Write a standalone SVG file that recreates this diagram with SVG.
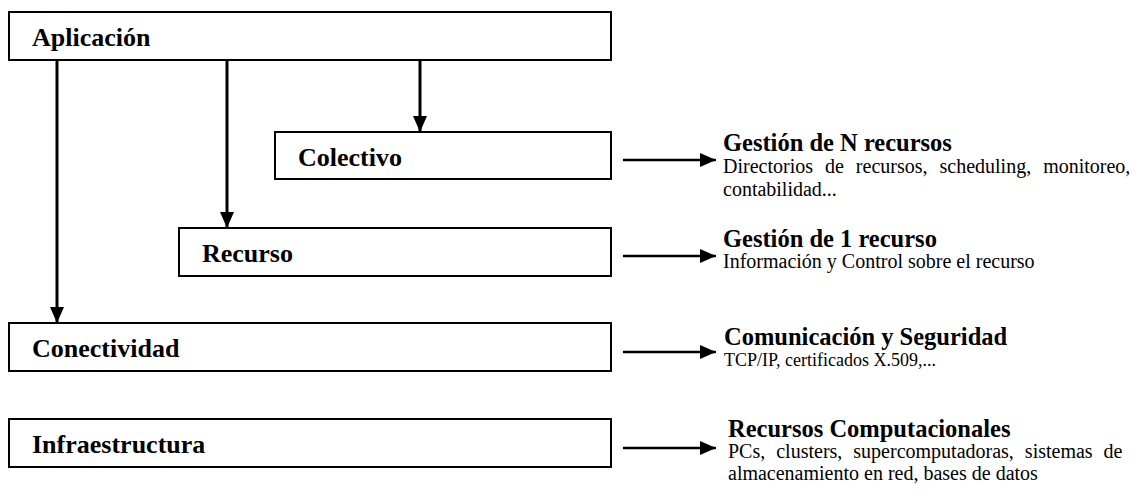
<svg xmlns="http://www.w3.org/2000/svg" width="1139" height="492" viewBox="0 0 1139 492">
  <style>
    .box { fill: #fff; stroke: #000; stroke-width: 2; }
    .label { font-family: "Liberation Serif", "Times New Roman", serif; font-weight: bold; font-size: 26px; fill: #000; }
    .head { font-family: "Liberation Serif", "Times New Roman", serif; font-weight: bold; font-size: 24.5px; fill: #000; }
    .desc { font-family: "Liberation Serif", "Times New Roman", serif; font-size: 20px; fill: #000; }
    .small { font-size: 18px; }
    .link { stroke: #000; fill: none; }
    .down { stroke-width: 3; marker-end: url(#headDown); }
    .side { stroke-width: 2.5; marker-end: url(#headSide); }
  </style>
  <defs>
    <marker id="headDown" markerUnits="userSpaceOnUse" markerWidth="16" markerHeight="14" viewBox="0 0 16 14" refX="16" refY="7" orient="auto">
      <path d="M0,0 L16,7 L0,14 Z" fill="#000"/>
    </marker>
    <marker id="headSide" markerUnits="userSpaceOnUse" markerWidth="16" markerHeight="14" viewBox="0 0 16 14" refX="16" refY="7" orient="auto">
      <path d="M0,0 L16,7 L0,14 Z" fill="#000"/>
    </marker>
  </defs>

  <!-- layer boxes -->
  <g id="aplicacion">
    <rect class="box" x="9" y="12" width="602" height="48"/>
    <text class="label" x="32" y="46">Aplicación</text>
  </g>
  <g id="colectivo">
    <rect class="box" x="275" y="132" width="336" height="47"/>
    <text class="label" x="298" y="166">Colectivo</text>
  </g>
  <g id="recurso">
    <rect class="box" x="179" y="228" width="432" height="48"/>
    <text class="label" x="202" y="262">Recurso</text>
  </g>
  <g id="conectividad">
    <rect class="box" x="9" y="323" width="602" height="48"/>
    <text class="label" x="32" y="357">Conectividad</text>
  </g>
  <g id="infraestructura">
    <rect class="box" x="9" y="419" width="602" height="48"/>
    <text class="label" x="32" y="453">Infraestructura</text>
  </g>

  <!-- descriptions beside each layer -->
  <g id="desc-colectivo">
    <text class="head" x="723" y="151">Gestión de N recursos</text>
    <text class="desc" x="723" y="173" word-spacing="7">Directorios de recursos, scheduling, monitoreo,</text>
    <text class="desc" x="723" y="196">contabilidad...</text>
  </g>
  <g id="desc-recurso">
    <text class="head" x="723" y="247">Gestión de 1 recurso</text>
    <text class="desc" x="723" y="268">Información y Control sobre el recurso</text>
  </g>
  <g id="desc-conectividad">
    <text class="head" x="724" y="345">Comunicación y Seguridad</text>
    <text class="desc small" x="724" y="366">TCP/IP, certificados X.509,...</text>
  </g>
  <g id="desc-infraestructura">
    <text class="head" x="728" y="437">Recursos Computacionales</text>
    <text class="desc" x="728" y="458" word-spacing="6">PCs, clusters, supercomputadoras, sistemas de</text>
    <text class="desc" x="728" y="480">almacenamiento en red, bases de datos</text>
  </g>

  <!-- connectors -->
  <g id="connectors">
    <line class="link down" x1="57" y1="60" x2="57" y2="323"/>
    <line class="link down" x1="227" y1="60" x2="227" y2="228"/>
    <line class="link down" x1="420" y1="60" x2="420" y2="132"/>
    <line class="link side" x1="623" y1="160" x2="716" y2="160"/>
    <line class="link side" x1="623" y1="256" x2="716" y2="256"/>
    <line class="link side" x1="623" y1="352" x2="716" y2="352"/>
    <line class="link side" x1="623" y1="448" x2="716" y2="448"/>
  </g>
</svg>
